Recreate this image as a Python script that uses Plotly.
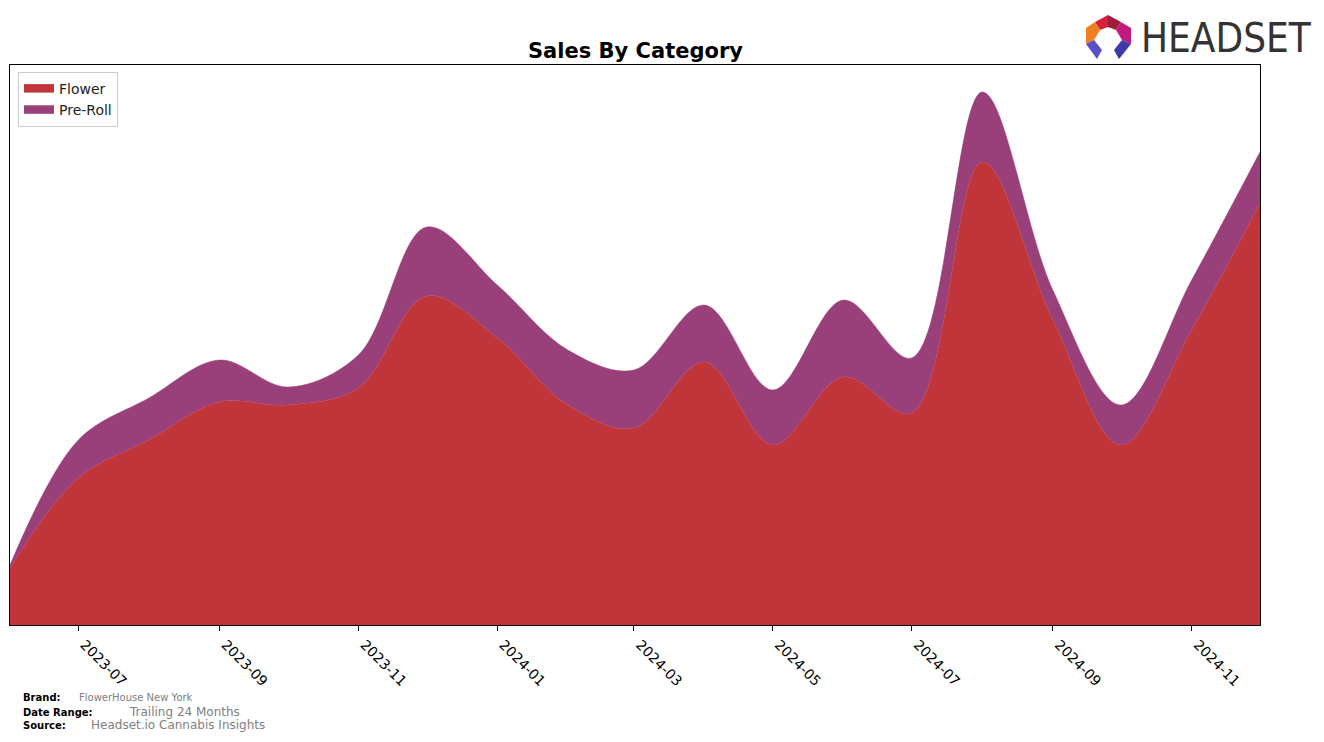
import plotly.graph_objects as go

months = ["2023-06-01", "2023-07-01", "2023-08-01", "2023-09-01", "2023-10-01", "2023-11-01",
          "2023-12-01", "2024-01-01", "2024-02-01", "2024-03-01", "2024-04-01", "2024-05-01",
          "2024-06-01", "2024-07-01", "2024-08-01", "2024-09-01", "2024-10-01", "2024-11-01",
          "2024-12-01"]
flower = [57, 147, 185, 223, 220, 237, 329, 287, 220, 197, 263, 180, 248, 212, 463, 305, 180, 295, 422]
preroll = [3, 38, 42, 42, 18, 33, 69, 53, 55, 58, 57, 55, 77, 55, 70, 30, 40, 50, 51]

tick_vals = ["2023-07-01", "2023-09-01", "2023-11-01", "2024-01-01", "2024-03-01", "2024-05-01",
             "2024-07-01", "2024-09-01", "2024-11-01"]
tick_text = ["2023-07", "2023-09", "2023-11", "2024-01", "2024-03", "2024-05", "2024-07", "2024-09", "2024-11"]

fig = go.Figure()
fig.add_trace(go.Scatter(x=months, y=flower, name="Flower", stackgroup="one",
                         mode="lines", line=dict(shape="spline", smoothing=1.0, width=0.5, color="#c0353a"),
                         fillcolor="#c0353a"))
fig.add_trace(go.Scatter(x=months, y=preroll, name="Pre-Roll", stackgroup="one",
                         mode="lines", line=dict(shape="spline", smoothing=1.0, width=0.5, color="#99407a"),
                         fillcolor="#99407a"))

W, H = 1324, 742
L, R, T, B = 10, 1260, 65, 625

def px(x):
    return (x - L) / (R - L)

def py(y):
    return (B - y) / (B - T)

annotations = [
    dict(text="<b>Sales By Category</b>", x=0.5, y=py(51), xref="paper", yref="paper",
         showarrow=False, font=dict(size=21, color="black", family="DejaVu Sans"), xanchor="center", yanchor="middle"),
    dict(text="HEADSET", x=px(1139), y=py(38), xref="paper", yref="paper", showarrow=False,
         font=dict(size=40, color="#333333", family="Liberation Sans Narrow, DejaVu Sans Condensed, Liberation Sans"),
         xanchor="left", yanchor="middle"),
    dict(text="<b>Brand:</b>", x=px(21), y=py(697), xref="paper", yref="paper", showarrow=False,
         font=dict(size=10, color="black", family="DejaVu Sans"), xanchor="left", yanchor="middle"),
    dict(text="FlowerHouse New York", x=px(77), y=py(697), xref="paper", yref="paper", showarrow=False,
         font=dict(size=10, color="#808080", family="DejaVu Sans"), xanchor="left", yanchor="middle"),
    dict(text="<b>Date Range:</b>", x=px(21), y=py(712), xref="paper", yref="paper", showarrow=False,
         font=dict(size=10, color="black", family="DejaVu Sans"), xanchor="left", yanchor="middle"),
    dict(text="Trailing 24 Months", x=px(127), y=py(712), xref="paper", yref="paper", showarrow=False,
         font=dict(size=12, color="#808080", family="DejaVu Sans"), xanchor="left", yanchor="middle"),
    dict(text="<b>Source:</b>", x=px(21), y=py(725), xref="paper", yref="paper", showarrow=False,
         font=dict(size=10, color="black", family="DejaVu Sans"), xanchor="left", yanchor="middle"),
    dict(text="Headset.io Cannabis Insights", x=px(89), y=py(725), xref="paper", yref="paper", showarrow=False,
         font=dict(size=12, color="#808080", family="DejaVu Sans"), xanchor="left", yanchor="middle"),
]

def poly(points, color):
    d = "M " + " L ".join(f"{px(a)},{py(b)}" for a, b in points) + " Z"
    return dict(type="path", path=d, xref="paper", yref="paper", fillcolor=color, line=dict(width=0))

shapes = [
    poly([(1095, 22), (1108, 15), (1108, 27), (1100, 30)], "#d4213c"),
    poly([(1108, 15), (1121, 22), (1116, 30), (1108, 27)], "#a01c3c"),
    poly([(1121, 22), (1131, 28), (1131, 44), (1122, 40), (1116, 30)], "#c2197f"),
    poly([(1095, 22), (1086, 28), (1086, 44), (1094, 40), (1100, 30)], "#f07f22"),
    poly([(1086, 44), (1094, 40), (1102, 50), (1097, 59)], "#5a4fc4"),
    poly([(1131, 44), (1122, 40), (1114, 50), (1119, 59)], "#3b3aa8"),
]

fig.update_layout(
    width=W, height=H,
    margin=dict(l=L, r=W - R, t=T, b=H - B, pad=0),
    paper_bgcolor="white", plot_bgcolor="white",
    showlegend=True,
    legend=dict(x=px(18), y=py(72), xanchor="left", yanchor="top", bordercolor="#cccccc", borderwidth=1,
                bgcolor="white", font=dict(size=14, family="DejaVu Sans", color="#222"),
                traceorder="normal", itemsizing="constant", tracegroupgap=0),
    xaxis=dict(range=["2023-06-01", "2024-12-01"], tickvals=tick_vals, ticktext=tick_text, tickangle=45,
               ticks="outside", ticklen=5, tickcolor="black", showgrid=False, zeroline=False,
               showline=True, linecolor="black", linewidth=1, mirror=True, ticklabelshift=6,
               tickfont=dict(size=14, family="DejaVu Sans", color="black")),
    yaxis=dict(range=[0, 560], showticklabels=False, ticks="", showgrid=False, zeroline=False,
               showline=True, linecolor="black", linewidth=1, mirror=True),
    annotations=annotations,
    shapes=shapes,
)

fig.write_html("out.html")
